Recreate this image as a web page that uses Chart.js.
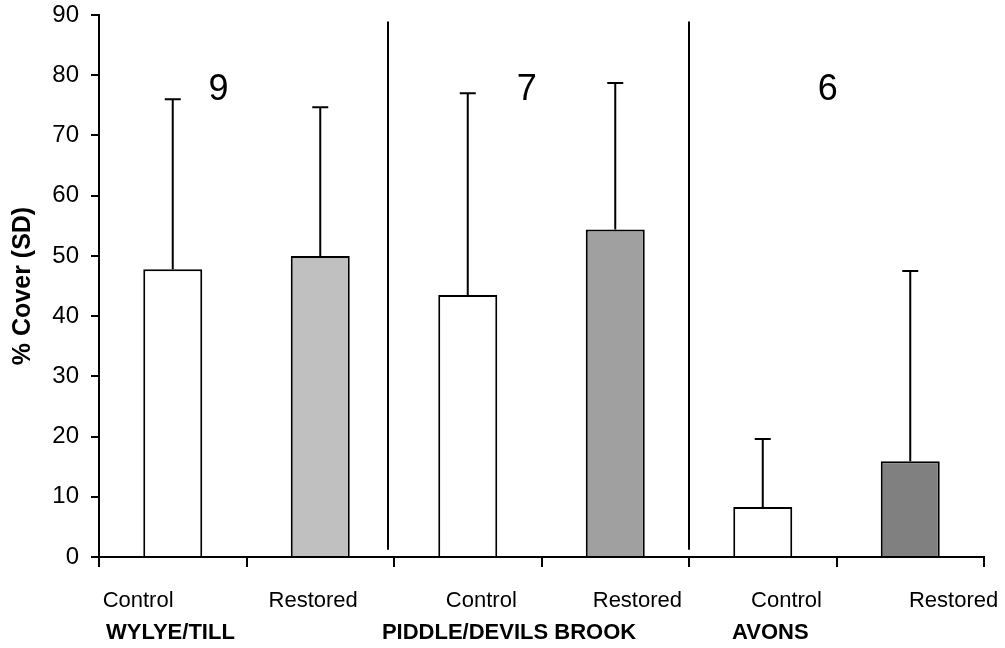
<!DOCTYPE html>
<html>
<head>
<meta charset="utf-8">
<script src="https://cdn.jsdelivr.net/npm/chart.js@4.4.1/dist/chart.umd.min.js"></script>
<style>
  html, body { margin: 0; padding: 0; background: #ffffff; }
  #wrap { width: 1005px; height: 648px; position: relative; }
</style>
</head>
<body>
<div id="wrap"><canvas id="chart"></canvas></div>
<script>
// Mean % cover with standard deviation, per treatment within each river system
const categories = ['Control', 'Restored', 'Control', 'Restored', 'Control', 'Restored'];
const sites = ['WYLYE/TILL', 'PIDDLE/DEVILS BROOK', 'AVONS'];
const meanCover = [47.8, 50.0, 43.5, 54.4, 8.3, 15.9];
const sdCover = [28.2, 24.7, 33.5, 24.3, 11.3, 31.6];
const sampleSizes = ['9', '7', '6'];
const barColours = ['#ffffff', '#c0c0c0', '#ffffff', '#a0a0a0', '#ffffff', '#808080'];
const yTicks = [0, 10, 20, 30, 40, 50, 60, 70, 80, 90];

// Label placement along the category axis (in category units) and height on the value axis
const categoryLabelAt = [-0.235, 0.952, 2.092, 3.150, 4.161, 5.294];
const siteLabelAt = [-0.452, 1.418, 3.792];
const sampleSizeAt = [0.31, 2.40, 4.44];
const sampleSizeY = 77.6;
const dividerAt = [1.46, 3.5];
const dividerSpan = [1.2, 88.9];

const FONT = "'Liberation Sans', Arial, Helvetica, sans-serif";

const annotations = {
  id: 'annotations',
  afterDatasetsDraw(chart) {
    const ctx = chart.ctx;
    const x = chart.scales.x, y = chart.scales.y;
    const meta = chart.getDatasetMeta(0);
    ctx.save();
    ctx.strokeStyle = '#000000';
    ctx.lineWidth = 2;
    // upper standard deviation whiskers
    meta.data.forEach((bar, i) => {
      const top = y.getPixelForValue(meanCover[i] + sdCover[i]);
      const base = y.getPixelForValue(meanCover[i]);
      ctx.beginPath();
      ctx.moveTo(bar.x, base);
      ctx.lineTo(bar.x, top);
      ctx.moveTo(bar.x - 8, top);
      ctx.lineTo(bar.x + 8, top);
      ctx.stroke();
    });
    // dividers between river systems
    dividerAt.forEach(v => {
      const px = Math.round(x.getPixelForValue(v));
      ctx.beginPath();
      ctx.moveTo(px, y.getPixelForValue(dividerSpan[0]));
      ctx.lineTo(px, y.getPixelForValue(dividerSpan[1]));
      ctx.stroke();
    });
    // sample sizes
    ctx.fillStyle = '#000000';
    ctx.font = '36px ' + FONT;
    ctx.textAlign = 'center';
    ctx.textBaseline = 'middle';
    sampleSizes.forEach((n, i) => {
      ctx.fillText(n, x.getPixelForValue(sampleSizeAt[i]), y.getPixelForValue(sampleSizeY));
    });
    // treatment and site labels beneath the axis
    ctx.font = '22px ' + FONT;
    categories.forEach((c, i) => {
      ctx.fillText(c, x.getPixelForValue(categoryLabelAt[i]), 601);
    });
    ctx.font = 'bold 22px ' + FONT;
    ctx.textAlign = 'left';
    sites.forEach((s, i) => {
      ctx.fillText(s, x.getPixelForValue(siteLabelAt[i]), 633);
    });
    ctx.restore();
  }
};

new Chart(document.getElementById('chart'), {
  type: 'bar',
  data: {
    labels: categories,
    datasets: [{
      data: meanCover,
      backgroundColor: barColours,
      borderColor: '#000000',
      borderWidth: 2,
      borderSkipped: 'start',
      barPercentage: 0.4,
      categoryPercentage: 1.0
    }]
  },
  options: {
    responsive: true,
    maintainAspectRatio: false,
    animation: false,
    layout: { padding: { top: 15, right: 21, bottom: 0, left: 0 } },
    plugins: { legend: { display: false }, tooltip: { enabled: false } },
    scales: {
      x: {
        offset: true,
        grid: {
          offset: true,
          drawOnChartArea: false,
          drawTicks: true,
          tickLength: 10,
          color: '#000000',
          lineWidth: 2
        },
        border: { display: true, color: '#000000', width: 2 },
        ticks: { display: false },
        afterFit(scale) {
          scale.height = 91;
          scale.paddingLeft = 0;
          scale.paddingRight = 0;
        }
      },
      y: {
        min: yTicks[0],
        max: yTicks[yTicks.length - 1],
        afterBuildTicks(scale) { scale.ticks = yTicks.map(v => ({ value: v })); },
        grid: {
          drawOnChartArea: false,
          drawTicks: true,
          tickLength: 8,
          color: '#000000',
          lineWidth: 2
        },
        border: { display: true, color: '#000000', width: 2 },
        ticks: {
          color: '#000000',
          padding: 12,
          font: { family: FONT, size: 24 }
        },
        title: {
          display: true,
          text: '% Cover (SD)',
          color: '#000000',
          font: { family: FONT, size: 25, weight: 'bold' },
          padding: { top: 8, bottom: 0 }
        },
        afterFit(scale) {
          scale.width = 99;
          scale.paddingTop = 0;
          scale.paddingBottom = 0;
        }
      }
    }
  },
  plugins: [annotations]
});
</script>
</body>
</html>
